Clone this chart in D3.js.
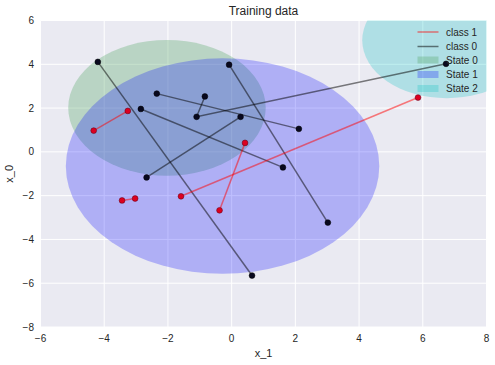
<!DOCTYPE html>
<html>
<head>
<meta charset="utf-8">
<script src="https://cdn.jsdelivr.net/npm/d3@7/dist/d3.min.js"></script>
<style>
  html, body { margin: 0; padding: 0; background: #ffffff; }
  svg { display: block; font-family: "Liberation Sans", Arial, sans-serif; }
</style>
</head>
<body>
<svg id="chart" width="495" height="365"></svg>
<script>
// ---- data (x_1 on horizontal axis, x_0 on vertical axis) ----
const xTicks = [-6, -4, -2, 0, 2, 4, 6, 8];
const yTicks = [-8, -6, -4, -2, 0, 2, 4, 6];

// class 1 sequences: points [x_1, x_0]
const class1Seqs = [
  [[-4.33, 0.97], [-3.26, 1.87]],
  [[-3.44, -2.22], [-3.03, -2.13]],
  [[-1.59, -2.03], [5.85, 2.48]],
  [[-0.38, -2.67], [0.42, 0.41]]
];
// class 0 sequences
const class0Seqs = [
  [[-4.20, 4.11], [0.64, -5.65]],
  [[-0.08, 3.98], [3.02, -3.23]],
  [[-2.35, 2.66], [2.11, 1.05]],
  [[-0.84, 2.53], [-1.10, 1.60], [6.73, 4.02]],
  [[-2.85, 1.96], [1.61, -0.71]],
  [[-2.67, -1.17], [0.28, 1.60]]
];

// hidden states: centre (x_1, x_0) and radius in data units
const stateNames = ["State 0", "State 1", "State 2"];
const stateCx = [-2.03, -0.285, 6.75];
const stateCy = [2.01, -0.65, 5.1];
const stateR = [3.1, 4.92, 2.65];
const stateColors = ["#55a868", "#0000ff", "#00bfbf"];
const stateAlphas = [0.33, 0.25, 0.25];

const classNames = ["class 1", "class 0"];
const classColors = ["#ff0000", "#000000"];

// ---- layout ----
const svg = d3.select("#chart");
const pL = 40.5, pR = 486.5, pT = 20.5, pB = 327;
const x = d3.scaleLinear().domain([-6, 8]).range([pL, pR]);
const y = d3.scaleLinear().domain([-8, 6]).range([pB, pT]);
const textColor = "#262626";

svg.append("defs").append("clipPath").attr("id", "plotclip")
  .append("rect").attr("x", pL).attr("y", pT)
  .attr("width", pR - pL).attr("height", pB - pT);

// background
svg.append("rect").attr("x", pL).attr("y", pT)
  .attr("width", pR - pL).attr("height", pB - pT)
  .attr("fill", "#eaeaf2");

// grid
const grid = svg.append("g");
grid.selectAll(".gx").data(xTicks).enter().append("line")
  .attr("x1", d => x(d)).attr("x2", d => x(d))
  .attr("y1", pT).attr("y2", pB)
  .attr("stroke", "#ffffff").attr("stroke-width", 1);
grid.selectAll(".gy").data(yTicks).enter().append("line")
  .attr("x1", pL).attr("x2", pR)
  .attr("y1", d => y(d)).attr("y2", d => y(d))
  .attr("stroke", "#ffffff").attr("stroke-width", 1);

const plot = svg.append("g").attr("clip-path", "url(#plotclip)");

// state ellipses
stateNames.forEach((s, i) => {
  plot.append("ellipse")
    .attr("cx", x(stateCx[i])).attr("cy", y(stateCy[i]))
    .attr("rx", x(stateCx[i] + stateR[i]) - x(stateCx[i]))
    .attr("ry", y(stateCy[i]) - y(stateCy[i] + stateR[i]))
    .attr("fill", stateColors[i]).attr("fill-opacity", stateAlphas[i]);
});

// sequences
const line = d3.line().x(d => x(d[0])).y(d => y(d[1]));
function drawSeqs(seqs, color, ptFill, ptStroke) {
  seqs.forEach(seq => {
    plot.append("path").attr("d", line(seq))
      .attr("fill", "none").attr("stroke", color)
      .attr("stroke-opacity", 0.5).attr("stroke-width", 1.5);
  });
  seqs.forEach(seq => {
    plot.selectAll(null).data(seq).enter().append("circle")
      .attr("cx", d => x(d[0])).attr("cy", d => y(d[1]))
      .attr("r", 2.9)
      .attr("fill", ptFill).attr("stroke", ptStroke).attr("stroke-width", 0.5);
  });
}
drawSeqs(class0Seqs, classColors[1], "#08081e", "#000000");
drawSeqs(class1Seqs, classColors[0], "#dc0020", "#5a0018");

// axes tick labels
svg.append("g").selectAll("text").data(xTicks).enter().append("text")
  .attr("x", d => x(d)).attr("y", 342)
  .attr("text-anchor", "middle").attr("font-size", 10).attr("fill", textColor)
  .text(d => d3.format("d")(d));
svg.append("g").selectAll("text").data(yTicks).enter().append("text")
  .attr("x", 34).attr("y", d => y(d) + 3.5)
  .attr("text-anchor", "end").attr("font-size", 10).attr("fill", textColor)
  .text(d => d3.format("d")(d));

// axis labels & title
svg.append("text").attr("x", (pL + pR) / 2).attr("y", 357)
  .attr("text-anchor", "middle").attr("font-size", 11).attr("fill", textColor)
  .text("x_1");
svg.append("text").attr("transform", `translate(13,${(pT + pB) / 2}) rotate(-90)`)
  .attr("text-anchor", "middle").attr("font-size", 11).attr("fill", textColor)
  .text("x_0");
svg.append("text").attr("x", (pL + pR) / 2).attr("y", 15)
  .attr("text-anchor", "middle").attr("font-size", 12).attr("fill", textColor)
  .text("Training data");

// legend
const lg = svg.append("g");
const lx0 = 417.5, lx1 = 438.5, tx = 446;
const rowsY = [32, 46.5, 60, 74.5, 88.5];
classNames.forEach((c, i) => {
  lg.append("line").attr("x1", lx0).attr("x2", lx1)
    .attr("y1", rowsY[i]).attr("y2", rowsY[i])
    .attr("stroke", classColors[i]).attr("stroke-opacity", 0.5).attr("stroke-width", 1.5);
  lg.append("text").attr("x", tx).attr("y", rowsY[i] + 3.5)
    .attr("font-size", 10).attr("fill", textColor).text(c);
});
stateNames.forEach((s, i) => {
  const ry = rowsY[i + 2];
  lg.append("rect").attr("x", lx0).attr("y", ry - 3.5)
    .attr("width", lx1 - lx0).attr("height", 7)
    .attr("fill", stateColors[i]).attr("fill-opacity", stateAlphas[i]);
  lg.append("text").attr("x", tx).attr("y", ry + 3.5)
    .attr("font-size", 10).attr("fill", textColor).text(s);
});
</script>
</body>
</html>
